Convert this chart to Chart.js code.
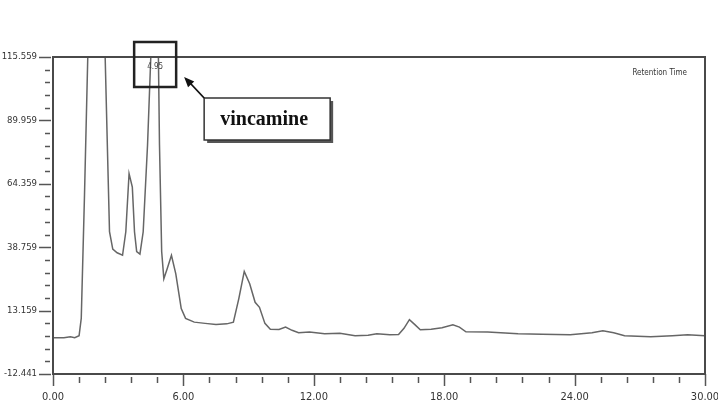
<!DOCTYPE html>
<html>
<head>
<meta charset="utf-8">
<script src="https://cdn.jsdelivr.net/npm/chart.js@4/dist/chart.umd.min.js"></script>
<style>
  html, body { margin: 0; padding: 0; background: #ffffff; overflow: hidden; }
  #wrap { width: 718px; height: 408px; }
</style>
</head>
<body>
<div id="wrap"><canvas id="c" width="718" height="408"></canvas></div>
<script>
// ---- data ----
const retentionTimes = [0.0, 0.5, 0.8, 1.0, 1.2, 1.3, 1.45, 1.6, 2.4, 2.5, 2.6, 2.75, 2.95, 3.2, 3.35, 3.5, 3.65, 3.75, 3.85, 4.0, 4.15, 4.35, 4.5, 4.85, 4.9, 5.0, 5.1, 5.25, 5.45, 5.65, 5.9, 6.1, 6.5, 7.0, 7.5, 8.0, 8.3, 8.55, 8.8, 9.05, 9.3, 9.5, 9.75, 10.0, 10.4, 10.7, 11.0, 11.3, 11.8, 12.5, 13.2, 13.9, 14.5, 14.9, 15.5, 15.9, 16.15, 16.4, 16.65, 16.9, 17.4, 17.9, 18.4, 18.7, 19.0, 20.0, 21.4, 22.5, 23.8, 24.8, 25.3, 25.8, 26.3, 27.5, 28.5, 29.2, 30.0];
const signal = [2.2, 2.2, 2.6, 2.2, 3.0, 10, 60, 115.559, 115.559, 80, 45, 38, 36.5, 35.5, 45, 68.5, 63, 45, 37, 36, 45, 80, 115.559, 115.559, 80, 37, 26, 30, 35.5, 28, 14, 10, 8.5, 8, 7.5, 7.8, 8.5, 18, 29, 24, 16.5, 14.5, 8, 5.6, 5.5, 6.5, 5.2, 4.2, 4.5, 3.8, 4.0, 3.0, 3.2, 3.8, 3.4, 3.5, 6, 9.5, 7.5, 5.4, 5.6, 6.2, 7.4, 6.5, 4.6, 4.5, 3.8, 3.6, 3.4, 4.2, 5.0, 4.2, 3.0, 2.6, 3.0, 3.4, 3.0];
const xTickLabels = [0, 6, 12, 18, 24, 30];
const yTickLabels = [-12.441, 13.159, 38.759, 64.359, 89.959, 115.559];
const peakLabel = '4.95';
const peakBoxTime = 4.7;
const compoundName = 'vincamine';
const axisTitle = 'Retention Time';

// minor ticks: 4 between each pair of labelled ticks
function withMinor(majors) {
  const out = [];
  for (let i = 0; i < majors.length - 1; i++) {
    for (let k = 0; k < 5; k++) out.push(majors[i] + (majors[i + 1] - majors[i]) * k / 5);
  }
  out.push(majors[majors.length - 1]);
  return out;
}
const xTicksAll = withMinor(xTickLabels);
const yTicksAll = withMinor(yTickLabels);

const narrow = "'Liberation Sans Narrow', 'DejaVu Sans Condensed', Arial, sans-serif";

const decor = {
  id: 'decor',
  afterDraw(chart) {
    const { ctx, chartArea: a, scales: { x, y } } = chart;
    ctx.save();
    // tick marks
    ctx.strokeStyle = '#555';
    ctx.lineWidth = 1.5;
    y.ticks.forEach((t, i) => {
      const py = Math.round(y.getPixelForValue(t.value)) + 0.5;
      const major = i % 5 === 0;
      ctx.beginPath();
      ctx.moveTo(a.left - (major ? 14 : 8), py);
      ctx.lineTo(a.left - (major ? 2 : 3), py);
      ctx.stroke();
    });
    x.ticks.forEach((t, i) => {
      const px = Math.round(x.getPixelForValue(t.value)) + 0.5;
      const major = i % 5 === 0;
      ctx.beginPath();
      ctx.moveTo(px, a.bottom + (major ? 0 : 3));
      ctx.lineTo(px, a.bottom + (major ? 12 : 9));
      ctx.stroke();
    });
    // frame
    ctx.strokeStyle = '#4a4a4a';
    ctx.lineWidth = 2;
    ctx.strokeRect(a.left, a.top, a.right - a.left, a.bottom - a.top);
    // axis title inside plot
    ctx.fillStyle = '#333';
    ctx.font = "8px " + narrow;
    ctx.textAlign = 'right';
    ctx.textBaseline = 'middle';
    ctx.fillText(axisTitle, a.right - 18, a.top + 16);
    // peak box
    const px = x.getPixelForValue(peakBoxTime);
    ctx.strokeStyle = '#222';
    ctx.lineWidth = 2.5;
    ctx.strokeRect(px - 21, a.top - 15, 42, 45);
    ctx.fillStyle = '#444';
    ctx.textAlign = 'center';
    ctx.fillText(peakLabel, px, a.top + 10);
    // callout box with shadow
    const bx = px + 49, by = a.top + 41, bw = 126, bh = 42;
    ctx.fillStyle = '#555';
    ctx.fillRect(bx + 3, by + 3, bw, bh);
    ctx.fillStyle = '#fff';
    ctx.fillRect(bx, by, bw, bh);
    ctx.strokeStyle = '#333';
    ctx.lineWidth = 1.5;
    ctx.strokeRect(bx, by, bw, bh);
    ctx.fillStyle = '#111';
    ctx.font = "bold 20px 'Liberation Serif', 'DejaVu Serif', serif";
    ctx.textAlign = 'center';
    ctx.textBaseline = 'middle';
    ctx.fillText(compoundName, bx + bw / 2 - 3, by + bh / 2 + 1);
    // arrow
    const tx = px + 29, ty = a.top + 20;
    ctx.strokeStyle = '#111';
    ctx.lineWidth = 1.8;
    ctx.beginPath(); ctx.moveTo(bx, by); ctx.lineTo(tx + 5, ty + 5); ctx.stroke();
    const ang = Math.atan2(ty - by, tx - bx);
    ctx.fillStyle = '#111';
    ctx.beginPath();
    ctx.moveTo(tx, ty);
    ctx.lineTo(tx - 11 * Math.cos(ang - 0.4), ty - 11 * Math.sin(ang - 0.4));
    ctx.lineTo(tx - 11 * Math.cos(ang + 0.4), ty - 11 * Math.sin(ang + 0.4));
    ctx.closePath();
    ctx.fill();
    ctx.restore();
  }
};

new Chart(document.getElementById('c'), {
  type: 'line',
  data: {
    datasets: [{
      data: retentionTimes.map((t, i) => ({ x: t, y: signal[i] })),
      borderColor: '#666',
      borderWidth: 1.5,
      pointRadius: 0,
      tension: 0,
      fill: false
    }]
  },
  options: {
    responsive: false,
    animation: false,
    devicePixelRatio: 1,
    layout: { padding: { top: 57, right: 13, left: 0, bottom: 0 } },
    plugins: { legend: { display: false }, tooltip: { enabled: false } },
    scales: {
      x: {
        type: 'linear',
        min: xTickLabels[0],
        max: xTickLabels[xTickLabels.length - 1],
        afterBuildTicks: s => { s.ticks = xTicksAll.map(v => ({ value: v })); },
        afterFit: s => { s.height = 34; s.paddingLeft = 0; s.paddingRight = 0; },
        ticks: {
          autoSkip: false, maxRotation: 0, padding: 17,
          color: '#333', font: { family: narrow, size: 11 },
          callback: (v, i) => (i % 5 === 0 ? xTickLabels[i / 5].toFixed(2) : '')
        },
        grid: { display: false, drawTicks: false },
        border: { display: false }
      },
      y: {
        type: 'linear',
        min: yTickLabels[0],
        max: yTickLabels[yTickLabels.length - 1],
        afterBuildTicks: s => { s.ticks = yTicksAll.map(v => ({ value: v })); },
        afterFit: s => { s.width = 53; s.paddingTop = 0; s.paddingBottom = 0; },
        ticks: {
          autoSkip: false, padding: 16,
          color: '#333', font: { family: narrow, size: 9.5 },
          callback: (v, i) => (i % 5 === 0 ? yTickLabels[i / 5].toFixed(3) : '')
        },
        grid: { display: false, drawTicks: false },
        border: { display: false }
      }
    }
  },
  plugins: [decor]
});
</script>
</body>
</html>
